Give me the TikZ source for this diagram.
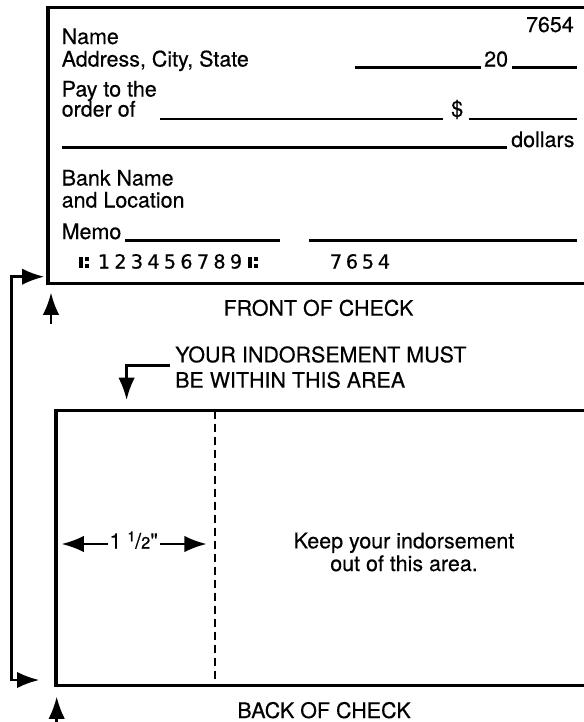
\documentclass[tikz,border=0pt]{standalone}
\usepackage{fontspec}
\setmainfont{TeX Gyre Heros}[FakeBold=0.4]
\newfontfamily\inchfont{TeX Gyre Heros}[Ligatures=TeXOff, FakeBold=0.4]
\newfontfamily\micrfont{DejaVu Sans}[FakeBold=0.6]
\usetikzlibrary{arrows.meta, math}

\tikzset{head/.tip={Latex[length=19pt, width=14pt]}}

\begin{document}
\begin{tikzpicture}[x=0.03cm, y=-0.03cm,
  every node/.style={inner sep=0pt, font=\fontsize{18.3}{22}\selectfont},
  frame/.style={line width=2.6pt},
  blank/.style={line width=2.1pt},
  pointer/.style={line width=2.1pt},
  micr/.style={inner sep=0pt, font=\micrfont\fontsize{16.5}{16.5}\selectfont},
  transit/.pic={
    \fill (0,-0.5) rectangle (4,-11);
    \fill (5.5,0) rectangle (9.5,-4);
    \fill (5.5,-7.5) rectangle (9.5,-11.5);
  }]
\tikzmath{
\fl=48; \ft=7.5; \fb=283.5;
\bl=56; \bt=410.5; \bb=685.5;
\dash=214.9;
}
\useasboundingbox (0,0) rectangle (584,722);

% front of check
\draw[frame] (600,\ft) -| (\fl,\fb) -- (600,\fb);
\node[anchor=base east] (number) at (574,32) {7654};
\node[anchor=base west] (name) at (61.5,44) {Name};
\node[anchor=base west] (address) at (61.5,66.5) {Address, City, State};
\draw[blank] (354.5,67.5) -- (480.5,67.5);
\node[anchor=base west] (year) at (484,66.5) {20};
\draw[blank] (512,67.5) -- (576.5,67.5);

\node[anchor=base west] (pay) at (61.5,96.5) {Pay to the};
\node[anchor=base west] (order) at (61.5,116.5) {order of};
\draw[blank] (160,119) -- (443,119);
\node[anchor=base west] (dollar) at (451,116.5) {\$};
\draw[blank] (469,119) -- (577,119);
\draw[blank] (61.5,147.5) -- (506.5,147.5);
\node[anchor=base west] (dollars) at (511,147) {dollars};

\node[anchor=base west] (bank) at (61.5,185.5) {Bank Name};
\node[anchor=base west] (location) at (61.5,207.5) {and Location};
\node[anchor=base west] (memo) at (61.5,239) {Memo};
\draw[blank] (125,240.5) -- (280,240.5);
\draw[blank] (309,240.5) -- (576.5,240.5);

% micr line
\pic at (79.3,268) {transit};
\foreach \c [count=\i] in {1,2,3,4,5,6,7,8,9}
  \node[micr, anchor=base] (route\i) at (87.5+16.5*\i,268.5) {\c};
\pic at (248.3,268) {transit};
\foreach \c [count=\i] in {7,6,5,4}
  \node[micr, anchor=base] (serial\i) at (320+16*\i,268.5) {\c};

\node[anchor=base] (front) at (318.5,315.7) {FRONT OF CHECK};

% arrows
\coordinate (frontin) at (44.3,276.7);
\coordinate (backin) at (39.3,680);
\draw[pointer, head-head] (frontin) -- ++(-32.6,0) |- (backin);
\coordinate (fronttail) at (51,323.5);
\coordinate (fronthead) at (51,292.5);
\draw[pointer, -head] (fronttail) -- (fronthead);
\coordinate (backtail) at (56.7,725);
\coordinate (backhead) at (56.7,696.5);
\draw[pointer, -head] (backtail) -- (backhead);

\node[anchor=base west] (must) at (175,362.3) {YOUR INDORSEMENT MUST};
\node[anchor=base west] (within) at (175,387.7) {BE WITHIN THIS AREA};
\coordinate (mustout) at (169.5,365.7);
\coordinate (mustin) at (126.6,400);
\draw[pointer, -head] (mustout) -| (mustin);

% back of check
\draw[frame] (600,\bt) -| (\bl,\bb) -- (600,\bb);
\draw[pointer, dash pattern=on 0.24cm off 0.15cm] (\dash,\bt) -- (\dash,\bb);

\node[anchor=base west, inner xsep=1.5pt] (dim) at (107.5,548.5)
  {1 \raisebox{0.33em}{\fontsize{12}{12}\selectfont 1}/{\fontsize{14}{14}\selectfont 2}{\inchfont "}};
\coordinate (dimleft) at (61.5,544);
\coordinate (dimright) at (206.7,544);
\draw[pointer, -head] (dim.west |- dimleft) -- (dimleft);
\draw[pointer, -head] (dim.east |- dimright) -- (dimright);

\node[anchor=base] (keep) at (404,548.3) {Keep your indorsement};
\node[anchor=base] (out) at (404,571) {out of this area.};
\node[anchor=base] (back) at (324,718) {BACK OF CHECK};
\end{tikzpicture}
\end{document}
